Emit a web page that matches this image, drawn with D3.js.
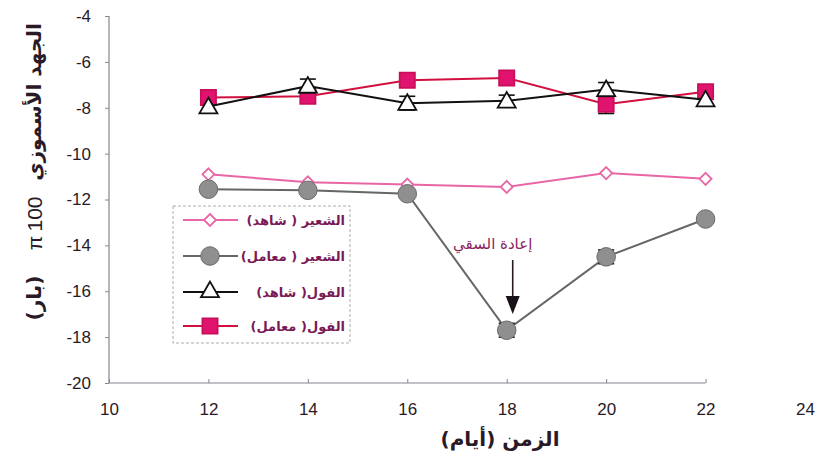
<!DOCTYPE html>
<html>
<head>
<meta charset="utf-8">
<script src="https://cdn.jsdelivr.net/npm/d3@7/dist/d3.min.js"></script>
<style>
  html, body { margin: 0; padding: 0; background: #fff; }
  svg { display: block; }
  .tick text { font-family: "Liberation Sans", Arial, sans-serif; font-size: 17px; fill: #2a1a26; }
  .ar { font-family: "DejaVu Sans", sans-serif; }
  .num { font-family: "Liberation Sans", Arial, sans-serif; }
</style>
</head>
<body>
<svg id="chart" width="837" height="461"></svg>
<script>
// Days after sowing
const days = [12, 14, 16, 18, 20, 22];

// Osmotic potential (bar) per treatment
const barleyControl = [-10.9, -11.25, -11.35, -11.45, -10.85, -11.1];
const barleyTreated = [-11.55, -11.6, -11.75, -17.7, -14.5, -12.85];
const fabaControl   = [-7.95, -7.05, -7.8, -7.7, -7.2, -7.65];
const fabaTreated   = [-7.55, -7.5, -6.8, -6.7, -7.85, -7.3];

// Standard errors
const barleyControlErr = [0, 0, 0, 0, 0, 0];
const barleyTreatedErr = [0, 0, 0, 0.3, 0.3, 0];
const fabaControlErr   = [0, 0.3, 0.3, 0.25, 0.3, 0];
const fabaTreatedErr   = [0, 0, 0, 0, 0.4, 0];

const xTicks = [10, 12, 14, 16, 18, 20, 22, 24];
const yTicks = [-4, -6, -8, -10, -12, -14, -16, -18, -20];

const legendLabels = ["الشعير ( شاهد)", "الشعير ( معامل)", "الفول( شاهد)", "الفول( معامل)"];
const xTitle = "الزمن (أيام)";
const yTitleParts = ["الجهد الأسموزي", "100", "π", "(بار)"];
const arrowLabel = "إعادة السقي";
const rewaterDay = 18;

const svg = d3.select("#chart");
const x = d3.scaleLinear().domain([10, 24]).range([109, 805]);
const y = d3.scaleLinear().domain([-20, -4]).range([383, 16]);

const axisColor = "#8a8290";

// X axis (line stops at the last sampling day)
const gx = svg.append("g").attr("transform", `translate(0,${y(-20)})`)
  .call(d3.axisBottom(x).tickValues(xTicks).tickSize(-4).tickPadding(20).tickFormat(d3.format("d")));
gx.select(".domain").remove();
gx.selectAll(".tick line").attr("stroke", axisColor).filter(d => d > 22).remove();
gx.append("line").attr("x1", x(10)).attr("x2", x(22)).attr("stroke", axisColor).attr("stroke-width", 1.2);

// Y axis
const gy = svg.append("g").attr("transform", `translate(${x(10)},0)`)
  .call(d3.axisLeft(y).tickValues(yTicks).tickSize(4).tickPadding(14).tickFormat(d3.format("d")));
gy.select(".domain").remove();
gy.selectAll(".tick line").attr("stroke", axisColor);
gy.selectAll(".tick text").text(d => (d < 0 ? "-" : "") + Math.abs(d));
gy.append("line").attr("y1", y(-4)).attr("y2", y(-20)).attr("stroke", axisColor).attr("stroke-width", 1.2);

const series = [
  { key: "fabaTreated", vals: fabaTreated, err: fabaTreatedErr, line: "#d0103e", shape: "square", fill: "#e0146e", stroke: "#c8105a" },
  { key: "fabaControl", vals: fabaControl, err: fabaControlErr, line: "#111", shape: "triangle", fill: "#fff", stroke: "#111" },
  { key: "barleyControl", vals: barleyControl, err: barleyControlErr, line: "#e866a6", shape: "diamond", fill: "#fff", stroke: "#e866a6" },
  { key: "barleyTreated", vals: barleyTreated, err: barleyTreatedErr, line: "#666", shape: "circle", fill: "#8f8f8f", stroke: "#6a6a6a" }
];

// Square diamond (equal width and height)
const evenDiamond = {
  draw(ctx, size) {
    const r = Math.sqrt(size / 2);
    ctx.moveTo(0, -r); ctx.lineTo(r, 0); ctx.lineTo(0, r); ctx.lineTo(-r, 0); ctx.closePath();
  }
};

const symbolFor = s => ({
  square: d3.symbol(d3.symbolSquare, 230),
  triangle: d3.symbol(d3.symbolTriangle, 140),
  diamond: d3.symbol(evenDiamond, 72),
  circle: d3.symbol(d3.symbolCircle, 270)
})[s];

const line = d3.line().x(d => x(d[0])).y(d => y(d[1]));

series.forEach(s => {
  const pts = days.map((d, i) => [d, s.vals[i], s.err[i]]);
  const g = svg.append("g");
  g.append("path").datum(pts).attr("d", line)
    .attr("fill", "none").attr("stroke", s.line).attr("stroke-width", 2);
  // error bars
  pts.filter(p => p[2] > 0).forEach(p => {
    const eg = g.append("g").attr("stroke", "#111").attr("stroke-width", 1.6);
    eg.append("line").attr("x1", x(p[0])).attr("x2", x(p[0])).attr("y1", y(p[1] + p[2])).attr("y2", y(p[1] - p[2]));
    [p[1] + p[2], p[1] - p[2]].forEach(v =>
      eg.append("line").attr("x1", x(p[0]) - 8).attr("x2", x(p[0]) + 8).attr("y1", y(v)).attr("y2", y(v)));
  });
  g.selectAll("path.m").data(pts).join("path").attr("class", "m")
    .attr("transform", p => `translate(${x(p[0])},${y(p[1]) + (s.shape === "triangle" ? 1.5 : 0)})`)
    .attr("d", symbolFor(s.shape)())
    .attr("fill", s.fill).attr("stroke", s.stroke).attr("stroke-width", s.shape === "circle" ? 1 : 1.8);
});

// Rewatering arrow
const ax = x(rewaterDay) + 6;
svg.append("text").attr("class", "ar").attr("x", ax - 20).attr("y", 249)
  .attr("text-anchor", "middle").attr("font-size", 15).attr("fill", "#8a1f5e").text(arrowLabel);
svg.append("line").attr("x1", ax).attr("x2", ax).attr("y1", 260).attr("y2", 298)
  .attr("stroke", "#2a1a26").attr("stroke-width", 1.6);
svg.append("path").attr("d", `M${ax - 7},${296} L${ax + 7},${296} L${ax},${314} Z`).attr("fill", "#1a1018");

// Legend
const lg = svg.append("g");
lg.append("rect").attr("x", 173).attr("y", 206).attr("width", 177).attr("height", 137)
  .attr("fill", "#fff").attr("stroke", "#b0a8b0").attr("stroke-dasharray", "3,2").attr("stroke-width", 1);
const legendOrder = [series[2], series[3], series[1], series[0]];
const legendY = [220, 256, 292, 326];
legendOrder.forEach((s, i) => {
  const ly = legendY[i];
  lg.append("line").attr("x1", 183).attr("x2", 238).attr("y1", ly).attr("y2", ly)
    .attr("stroke", s.line).attr("stroke-width", 2);
  lg.append("path").attr("transform", `translate(210,${ly})`).attr("d", symbolFor(s.shape)())
    .attr("fill", s.fill).attr("stroke", s.stroke).attr("stroke-width", s.shape === "circle" ? 1 : 1.8);
  lg.append("text").attr("class", "ar").attr("x", 345).attr("y", ly + 5)
    .attr("direction", "rtl").attr("text-anchor", "start")
    .attr("font-size", 13).attr("font-weight", "bold").attr("fill", "#7a1a55").text(legendLabels[i]);
});

// Axis titles
svg.append("text").attr("class", "ar").attr("x", 500).attr("y", 446)
  .attr("text-anchor", "middle").attr("direction", "rtl").attr("font-size", 20).attr("font-weight", "bold")
  .attr("fill", "#2a1a26").text(xTitle);

// Rotated y title, built from separate runs to keep their order fixed
const yTitleCenters = [102, 214, 243, 298];
const yTitleClass = ["ar", "num", "num", "ar"];
const yTitleSizes = [20, 21, 21, 20];
const yTitleWeights = ["bold", "normal", "normal", "bold"];
yTitleParts.forEach((t, i) => {
  svg.append("text").attr("class", yTitleClass[i])
    .attr("transform", `translate(34,${yTitleCenters[i]}) rotate(-90)`)
    .attr("text-anchor", "middle").attr("dominant-baseline", "central")
    .attr("direction", yTitleClass[i] === "ar" ? "rtl" : "ltr")
    .attr("font-size", yTitleSizes[i]).attr("font-weight", yTitleWeights[i])
    .attr("fill", "#2a1a26").text(t);
});
</script>
</body>
</html>
